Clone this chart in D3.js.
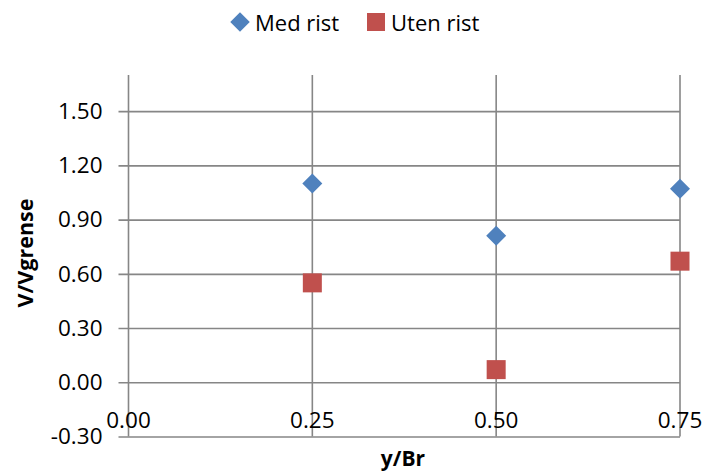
<!DOCTYPE html>
<html>
<head>
<meta charset="utf-8">
<script src="https://cdn.jsdelivr.net/npm/d3@7"></script>
<style>
  html, body { margin: 0; padding: 0; background: #fff; }
  svg { display: block; font-family: "Open Sans", sans-serif; }
</style>
</head>
<body>
<svg id="chart" width="705" height="472"></svg>
<script>
// Shear-ratio readings at three transverse positions
const positions = [0.25, 0.50, 0.75];
const medRist = [1.10, 0.81, 1.07];
const utenRist = [0.55, 0.07, 0.67];
const seriesNames = ["Med rist", "Uten rist"];
const xTicks = [0.00, 0.25, 0.50, 0.75];
const yTicks = [-0.30, 0.00, 0.30, 0.60, 0.90, 1.20, 1.50];

const svg = d3.select("#chart");
const plot = { left: 128.5, right: 680, top: 75, bottom: 436.5 };

const x = d3.scaleLinear().domain([0, 0.75]).range([plot.left, plot.right]);
const y = d3.scaleLinear().domain([-0.30, 1.70]).range([plot.bottom, plot.top]);

// two decimals, plain hyphen for negatives
const fmt = d => d.toFixed(2);

const gridColor = "#868686";
const gridWidth = 1.6;
const blue = "#4F81BD", red = "#C0504D";
const tickFont = 22.5;

// horizontal gridlines + y ticks
const yAxis = d3.axisLeft(y).tickValues(yTicks).tickFormat(fmt)
  .tickSize(-(plot.right - plot.left)).tickPadding(26);
const gy = svg.append("g").attr("transform", `translate(${plot.left},0)`).call(yAxis);
gy.select(".domain").remove();
gy.selectAll(".tick line").attr("stroke", gridColor).attr("stroke-width", gridWidth).attr("x1", -10);
gy.selectAll(".tick text").attr("font-size", tickFont).attr("fill", "#000")
  .attr("font-family", "Open Sans, sans-serif");

// vertical gridlines
svg.append("g").selectAll("line").data(xTicks).join("line")
  .attr("x1", d => x(d)).attr("x2", d => x(d))
  .attr("y1", plot.top).attr("y2", plot.bottom)
  .attr("stroke", gridColor).attr("stroke-width", gridWidth);

// x tick labels sit just above the bottom edge
svg.append("g").selectAll("text").data(xTicks).join("text")
  .attr("x", d => x(d)).attr("y", 428)
  .attr("text-anchor", "middle").attr("font-size", tickFont)
  .text(fmt);

// axis titles
svg.append("text").attr("x", 403).attr("y", 466)
  .attr("text-anchor", "middle").attr("font-size", 21).attr("font-weight", "bold")
  .text("y/Br");
svg.append("text").attr("transform", "translate(33,253) rotate(-90)")
  .attr("text-anchor", "middle").attr("font-size", 21.5).attr("font-weight", "bold")
  .text("V/Vgrense");

// markers
const diamond = d3.symbol().type(d3.symbolSquare).size(200);
svg.append("g").selectAll("path").data(positions.map((p, i) => [p, medRist[i]])).join("path")
  .attr("d", diamond)
  .attr("transform", d => `translate(${x(d[0])},${y(d[1])}) rotate(45)`)
  .attr("fill", blue);

const sq = 19;
svg.append("g").selectAll("rect").data(positions.map((p, i) => [p, utenRist[i]])).join("rect")
  .attr("x", d => x(d[0]) - sq / 2).attr("y", d => y(d[1]) - sq / 2)
  .attr("width", sq).attr("height", sq)
  .attr("fill", red);

// legend
const lg = svg.append("g");
lg.append("path").attr("d", d3.symbol().type(d3.symbolSquare).size(190))
  .attr("transform", "translate(240,22) rotate(45)").attr("fill", blue);
lg.append("text").attr("x", 255).attr("y", 31).attr("font-size", 22).text(seriesNames[0]);
lg.append("rect").attr("x", 367).attr("y", 13).attr("width", 18).attr("height", 18).attr("fill", red);
lg.append("text").attr("x", 391).attr("y", 31).attr("font-size", 22).text(seriesNames[1]);
</script>
</body>
</html>
